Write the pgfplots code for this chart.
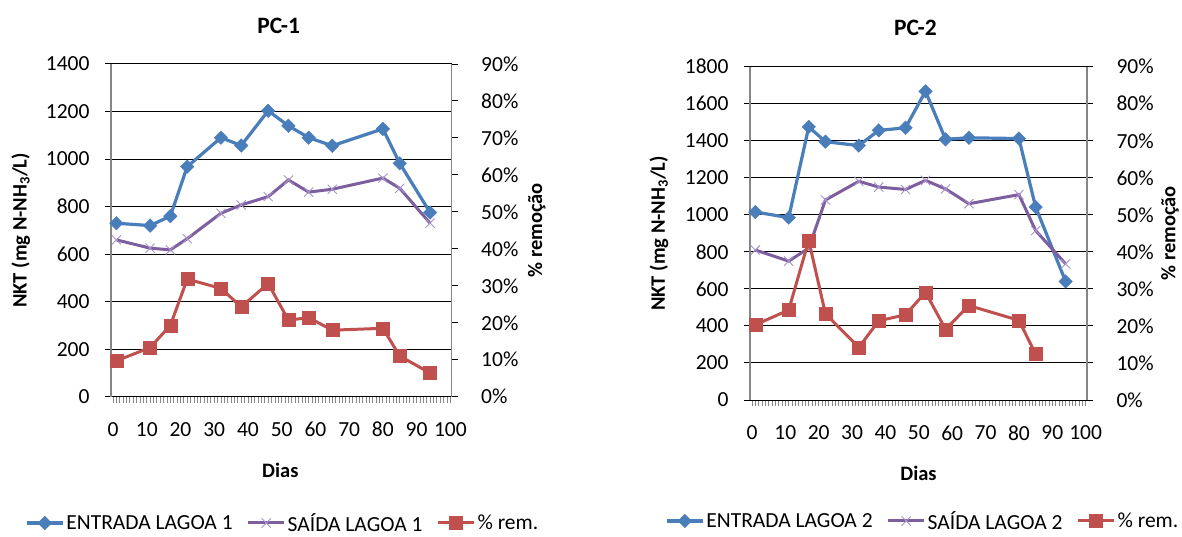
\documentclass[border=0pt]{standalone}
\usepackage{pgfplots}
\pgfplotsset{compat=1.18}
\usepackage{pgfplotstable}
\usepackage{fontspec}
\setmainfont{Carlito}

\definecolor{entrada}{HTML}{4A7EBB}
\definecolor{saida}{HTML}{7D5FA0}
\definecolor{saidamark}{HTML}{A894CB}
\definecolor{rem}{HTML}{C0504D}
\definecolor{axisgray}{HTML}{868686}

% dia, NKT de entrada e de saida (mg N-NH3/L), remocao (%)
\pgfplotstableread{
dia entrada saida rem
1  730  660  9.7
11 720  625  13.3
17 760  618  19.3
22 968  665  31.8
32 1090 772  29.3
38 1057 807  24.3
46 1203 842  30.6
52 1140 912  20.7
58 1090 861  21.4
65 1056 873  18.0
80 1127 920  18.5
85 982  877  11.0
94 775  730  6.4
}\pcum

\pgfplotstableread{
dia entrada saida rem
1  1015 810  20.3
11 985  750  24.3
17 1475 820  43.1
22 1395 1080 23.3
32 1374 1181 14.2
38 1456 1150 21.4
46 1470 1137 23.0
52 1667 1186 29.1
58 1408 1140 19.1
65 1416 1060 25.5
80 1412 1109 21.5
85 1042 915  12.4
94 640  735  nan
}\pcdois

\newcommand{\tickfont}{\fontsize{21.5}{25}\selectfont}
\newcommand{\labfont}{\bfseries\fontsize{20.5}{24}\selectfont}

\pgfplotsset{
  entradaplot/.style={entrada, line width=3.2pt, mark=square*,
    mark size=4.8pt, mark options={rotate=45, solid, fill=entrada, draw=entrada, line width=0.4pt}},
  saidaplot/.style={saida, line width=3pt, mark=x, mark size=6.5pt,
    mark options={draw=saidamark, line width=0.9pt}},
  remplot/.style={rem, line width=3pt, mark=square*, mark size=6.5pt,
    mark options={fill=rem, draw=rem, line width=0.4pt}},
  base/.style={
    scale only axis, clip=false,
    xmin=-0.6, xmax=100.4,
    /pgf/number format/assume math mode=true,
    /pgf/number format/1000 sep={},
    tick label style={font=\tickfont, black},
    label style={font=\labfont},
  },
  leftaxis/.style={
    base,
    axis x line*=bottom, axis y line*=left,
    x axis line style={-, black, line width=1pt},
    y axis line style={-, axisgray, line width=1.2pt},
    xtick={0,10,...,100}, minor x tick num=9,
    tick align=outside,
    major tick length=6pt, minor tick length=6pt,
    xtick style={axisgray, line width=0.8pt},
    ytick style={black, line width=1pt},
    ymin=0, ymajorgrids,
    major grid style={black, line width=1pt},
    xticklabel style={yshift=-16pt},
    yticklabel style={xshift=-12pt},
    xlabel={Dias},
    ylabel={NKT (mg N-NH\textsubscript{3}/L)},
    title style={yshift=0pt, anchor=center, font=\bfseries\fontsize{23.5}{28}\selectfont},
  },
  rightaxis/.style={
    base,
    axis x line=none, axis y line*=right,
    y axis line style={-, axisgray, line width=1.2pt},
    tick align=outside, major tick length=6pt,
    ytick style={black, line width=1pt},
    ymin=0, ymax=90, ytick={0,10,...,90},
    yticklabel={\pgfmathprintnumber{\tick}\%},
    yticklabel style={xshift=20pt},
    ylabel={\% remoção},
    legend columns=3,
    legend image code/.code={%
      \draw[mark repeat=2,mark phase=2] plot coordinates {(0pt,0pt) (18pt,0pt) (36pt,0pt)};},
    legend style={draw=none, fill=none, inner sep=0pt, anchor=west,
      font=\fontsize{21.5}{25}\selectfont,
      nodes={inner sep=2pt},
      /tikz/every even column/.append style={column sep=12pt}},
  },
}

\begin{document}
\begin{tikzpicture}
\path[use as bounding box] (0pt,0pt) rectangle (1182pt,536pt);

% ---------- PC-1 ----------
\begin{axis}[leftaxis, at={(111pt,139.3pt)}, anchor=south west,
    width=340.7pt, height=332.7pt,
    ymax=1400, ytick={0,200,...,1400},
    title={PC-1},
    title style={at={(0.492,1.098)}},
    xlabel style={at={(0.497,-0.22)}, anchor=center},
    ylabel style={at={(-0.265,0.5)}, anchor=center}]
  \addplot[entradaplot] table[x=dia, y=entrada] {\pcum};
  \addplot[saidaplot] table[x=dia, y=saida] {\pcum};
\end{axis}
\begin{axis}[rightaxis, at={(111pt,139.3pt)}, anchor=south west,
    width=340.7pt, height=332.7pt,
    ylabel style={at={(1.2495,0.5)}, anchor=center},
    legend style={at={(-0.2524,-0.3796)}}]
  \addlegendimage{entradaplot}
  \addlegendentry{ENTRADA LAGOA 1}
  \addlegendimage{saidaplot}
  \addlegendentry{SAÍDA LAGOA 1}
  \addplot[remplot] table[x=dia, y=rem] {\pcum};
  \addlegendentry{\% rem.}
\end{axis}

% ---------- PC-2 ----------
\begin{axis}[leftaxis, at={(750pt,136pt)}, anchor=south west,
    width=337pt, height=333.3pt,
    ymax=1800, ytick={0,200,...,1800},
    title={PC-2},
    title style={at={(0.491,1.097)}},
    xlabel style={at={(0.5,-0.219)}, anchor=center},
    ylabel style={at={(-0.27,0.5)}, anchor=center}]
  \addplot[entradaplot] table[x=dia, y=entrada] {\pcdois};
  \addplot[saidaplot] table[x=dia, y=saida] {\pcdois};
\end{axis}
\begin{axis}[rightaxis, at={(750pt,136pt)}, anchor=south west,
    width=337pt, height=333.3pt,
    ylabel style={at={(1.246,0.5)}, anchor=center},
    legend style={at={(-0.2522,-0.363)}}]
  \addlegendimage{entradaplot}
  \addlegendentry{ENTRADA LAGOA 2}
  \addlegendimage{saidaplot}
  \addlegendentry{SAÍDA LAGOA 2}
  \addplot[remplot] table[x=dia, y=rem] {\pcdois};
  \addlegendentry{\% rem.}
\end{axis}
\end{tikzpicture}
\end{document}
